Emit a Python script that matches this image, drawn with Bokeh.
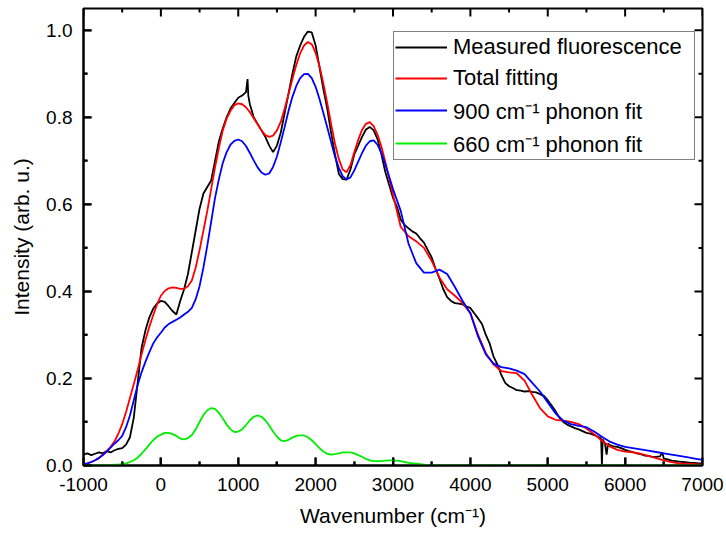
from bokeh.plotting import figure
from bokeh.models import Range1d, FixedTicker, NumeralTickFormatter, Legend, LegendItem, ColumnDataSource
from bokeh.embed import file_html
from bokeh.resources import INLINE

# ---------------- data ----------------
fit_x = list(range(-1000, 3001, 50)) + list(range(3100, 7001, 100))

total_fit = [0.003, 0.005, 0.008, 0.012, 0.018, 0.025, 0.033, 0.043, 0.055, 0.073,
             0.095, 0.123, 0.155, 0.187, 0.22, 0.255, 0.288, 0.318, 0.345, 0.37,
             0.39, 0.401, 0.407, 0.409, 0.408, 0.406, 0.406, 0.412, 0.425, 0.455,
             0.495, 0.54, 0.585, 0.635, 0.685, 0.73, 0.77, 0.797, 0.815, 0.828,
             0.832, 0.83, 0.823, 0.812, 0.798, 0.784, 0.77, 0.759, 0.755, 0.758,
             0.77, 0.79, 0.82, 0.853, 0.888, 0.92, 0.947, 0.965, 0.973, 0.968,
             0.948, 0.918, 0.878, 0.833, 0.785, 0.74, 0.704, 0.68, 0.674, 0.69,
             0.72, 0.748, 0.771, 0.785, 0.789, 0.78, 0.76, 0.733, 0.698, 0.66,
             0.622,
             0.548, 0.527, 0.515, 0.5, 0.47, 0.432, 0.405, 0.39, 0.373, 0.35,
             0.3, 0.258, 0.232, 0.217, 0.214, 0.212, 0.195, 0.162, 0.132, 0.113,
             0.105, 0.103, 0.1, 0.095, 0.085, 0.072, 0.057, 0.044, 0.036, 0.032,
             0.03, 0.027, 0.022, 0.017, 0.012, 0.008, 0.005, 0.004, 0.003, 0.002]

fit_900 = [0.003, 0.005, 0.008, 0.012, 0.017, 0.024, 0.032, 0.041, 0.05, 0.058,
           0.068, 0.088, 0.115, 0.15, 0.185, 0.214, 0.238, 0.26, 0.28, 0.294,
           0.305, 0.317, 0.325, 0.33, 0.335, 0.34, 0.347, 0.353, 0.362, 0.382,
           0.412, 0.455, 0.505, 0.56, 0.615, 0.658, 0.695, 0.72, 0.737, 0.746,
           0.749, 0.745, 0.734, 0.718, 0.701, 0.685, 0.673, 0.668, 0.671, 0.686,
           0.71, 0.743, 0.778, 0.815, 0.847, 0.872, 0.89, 0.899, 0.9, 0.89,
           0.87, 0.842, 0.81, 0.777, 0.743, 0.71, 0.684, 0.665, 0.657, 0.662,
           0.678, 0.698, 0.718, 0.735, 0.745, 0.747, 0.737, 0.718, 0.692, 0.664,
           0.635,
           0.585, 0.51, 0.465, 0.443, 0.443, 0.45, 0.44, 0.41, 0.378, 0.35,
           0.296, 0.255, 0.234, 0.226, 0.223, 0.218, 0.21, 0.19, 0.17, 0.145,
           0.12, 0.103, 0.095, 0.091, 0.088, 0.078, 0.066, 0.055, 0.048, 0.043,
           0.04, 0.037, 0.034, 0.031, 0.028, 0.025, 0.022, 0.019, 0.016, 0.013]

fit_660 = [0.0, 0.0, 0.0, 0.0, 0.0, 0.001, 0.001, 0.001, 0.002, 0.002,
           0.003, 0.005, 0.008, 0.012, 0.018, 0.027, 0.037, 0.048, 0.058, 0.066,
           0.071, 0.075, 0.075, 0.072, 0.068, 0.062, 0.06, 0.063, 0.07, 0.083,
           0.1, 0.116, 0.127, 0.132, 0.13, 0.121, 0.108, 0.094, 0.083, 0.077,
           0.078, 0.083, 0.093, 0.104, 0.112, 0.115, 0.112, 0.104, 0.092, 0.078,
           0.066, 0.058, 0.056, 0.059, 0.064, 0.068, 0.069, 0.069, 0.065, 0.058,
           0.049, 0.04, 0.032, 0.027, 0.025, 0.026, 0.028, 0.03, 0.03, 0.03,
           0.028, 0.024, 0.02, 0.015, 0.012, 0.01, 0.01, 0.01, 0.011, 0.012,
           0.012,
           0.01, 0.006, 0.004, 0.002, 0.001, 0.0, 0.0, 0.0, 0.0, 0.0,
           0.0, 0.0, 0.0, 0.0, 0.0, 0.0, 0.0, 0.0, 0.0, 0.0,
           0.0, 0.0, 0.0, 0.0, 0.0, 0.0, 0.0, 0.0, 0.0, 0.0,
           0.0, 0.0, 0.0, 0.0, 0.0, 0.0, 0.0, 0.0, 0.0, 0.0]

meas_x = [-1000, -950, -900, -850, -800, -750, -700, -650, -600, -550,
          -500, -450, -400, -350, -300, -250, -200, -150, -100, -50,
          0, 50, 100, 150, 200, 250, 300, 350, 400, 450,
          500, 550, 600, 650, 700, 750, 800, 850, 900, 950,
          1000, 1050, 1100, 1120, 1130, 1150, 1200, 1250, 1300, 1350,
          1400, 1450, 1500, 1550, 1600, 1650, 1700, 1750, 1800, 1850,
          1900, 1950, 2000, 2050, 2100, 2150, 2200, 2250, 2300, 2350,
          2400, 2450, 2500, 2550, 2600, 2650, 2700, 2750, 2800, 2850,
          2900, 2950, 3000, 3050, 3100, 3150, 3200, 3250, 3300, 3350,
          3400, 3450, 3500, 3550, 3600, 3650, 3700, 3750, 3800, 3850,
          3900, 3950, 4000, 4050, 4100, 4150, 4200, 4250, 4300, 4350,
          4400, 4450, 4500, 4550, 4600, 4650, 4700, 4750, 4800, 4850,
          4900, 4950, 5000, 5050, 5100, 5150, 5200, 5250, 5300, 5350,
          5400, 5450, 5500, 5550, 5600, 5650, 5690, 5700, 5710, 5740,
          5760, 5780, 5800, 5850, 5900, 5950, 6000, 6050, 6100, 6150,
          6200, 6250, 6300, 6350, 6400, 6450, 6480, 6500, 6550, 6600,
          6650, 6700, 6750, 6800, 6850, 6900, 6950, 7000]

meas_y = [0.025, 0.028, 0.024, 0.027, 0.03, 0.028, 0.033, 0.03, 0.035, 0.038,
          0.04, 0.048, 0.065, 0.11, 0.19, 0.27, 0.31, 0.34, 0.36, 0.372,
          0.378, 0.376, 0.366, 0.355, 0.347, 0.378, 0.405, 0.44, 0.49, 0.54,
          0.59, 0.625, 0.64, 0.655, 0.70, 0.745, 0.775, 0.80, 0.82, 0.833,
          0.845, 0.85, 0.858, 0.888, 0.85, 0.83, 0.80, 0.785, 0.77, 0.755,
          0.735, 0.72, 0.735, 0.765, 0.81, 0.855, 0.90, 0.94, 0.965, 0.985,
          0.997, 0.995, 0.965, 0.915, 0.865, 0.82, 0.765, 0.715, 0.67, 0.658,
          0.657, 0.68, 0.715, 0.735, 0.755, 0.772, 0.778, 0.77, 0.75, 0.715,
          0.675, 0.645, 0.615, 0.595, 0.565, 0.553, 0.545, 0.538, 0.533, 0.522,
          0.512, 0.495, 0.478, 0.452, 0.43, 0.405, 0.387, 0.378, 0.373, 0.372,
          0.37, 0.365, 0.362, 0.35, 0.338, 0.325, 0.30, 0.28, 0.25, 0.232,
          0.208, 0.19, 0.182, 0.178, 0.173, 0.172, 0.17, 0.171, 0.169, 0.168,
          0.164, 0.16, 0.15, 0.138, 0.125, 0.11, 0.10, 0.094, 0.09, 0.086,
          0.083, 0.079, 0.075, 0.073, 0.07, 0.066, 0.062, 0.0, 0.06, 0.05,
          0.025, 0.05, 0.047, 0.044, 0.043, 0.04, 0.036, 0.033, 0.031, 0.028,
          0.026, 0.023, 0.022, 0.02, 0.02, 0.021, 0.03, 0.016, 0.014, 0.011,
          0.01, 0.009, 0.008, 0.007, 0.006, 0.006, 0.005, 0.005]

x_lo, x_hi = -1000, 7000
y_lo, y_hi = 0.0, 1.05
x_major = [-1000, 0, 1000, 2000, 3000, 4000, 5000, 6000, 7000]
x_minor = [-500, 500, 1500, 2500, 3500, 4500, 5500, 6500]
y_major = [0.0, 0.2, 0.4, 0.6, 0.8, 1.0]
y_minor = [0.1, 0.3, 0.5, 0.7, 0.9]

labels = ["Measured fluorescence", "Total fitting",
          "900 cm\u207b\u00b9 phonon fit", "660 cm\u207b\u00b9 phonon fit"]
colors = ["#000000", "#ff0000", "#0000ff", "#00ee00"]

FONT = "Liberation Sans"

W, H = 726, 539
BL, BR, BT, BB = 83, 24, 8, 74

# ---------------- figure ----------------
p = figure(width=W, height=H, output_backend="svg", toolbar_location=None,
           x_range=Range1d(x_lo, x_hi), y_range=Range1d(y_lo, y_hi),
           min_border_left=BL, min_border_right=BR, min_border_top=BT,
           min_border_bottom=BB,
           x_axis_label="Wavenumber (cm\u207b\u00b9)",
           y_axis_label="Intensity (arb. u.)")
p.xgrid.visible = False
p.ygrid.visible = False
p.outline_line_color = "black"
p.outline_line_width = 2
p.background_fill_color = "white"
p.border_fill_color = "white"

for ax in (p.xaxis[0], p.yaxis[0]):
    ax.axis_line_color = "black"
    ax.axis_line_width = 2
    ax.major_tick_line_color = "black"
    ax.minor_tick_line_color = "black"
    ax.major_tick_line_width = 2
    ax.minor_tick_line_width = 2
    ax.major_tick_in = 8
    ax.major_tick_out = 0
    ax.minor_tick_in = 4
    ax.minor_tick_out = 0
    ax.major_label_text_font = FONT
    ax.axis_label_text_font = FONT
    ax.axis_label_text_font_style = "normal"
    ax.axis_label_text_color = "black"
    ax.major_label_text_color = "black"
    ax.major_label_text_font_size = "19px"
    ax.axis_label_text_font_size = "21px"

xa = p.xaxis[0]
xa.ticker = FixedTicker(ticks=x_major, minor_ticks=x_minor)
xa.major_label_overrides = {x_major[0]: "-1000"}
xa.major_label_standoff = 12
xa.axis_label_standoff = 10

ya = p.yaxis[0]
ya.ticker = FixedTicker(ticks=y_major, minor_ticks=y_minor)
ya.formatter = NumeralTickFormatter(format="0.0")
ya.major_label_standoff = 11
ya.axis_label_standoff = 10

# inward ticks on all four sides, as short segments at the tick values
fw = W - BL - BR
fh = H - BT - BB
dx = (x_hi - x_lo) / fw   # data units per pixel
dy = (y_hi - y_lo) / fh
seg = dict(line_color="black", line_width=2)
for ticks, n in ((x_major, 8), (x_minor, 4)):
    p.segment(x0=ticks, y0=[y_lo] * len(ticks), x1=ticks, y1=[y_lo + n * dy] * len(ticks), **seg)
    p.segment(x0=ticks, y0=[y_hi] * len(ticks), x1=ticks, y1=[y_hi - n * dy] * len(ticks), **seg)
for ticks, n in ((y_major, 8), (y_minor, 4)):
    p.segment(x0=[x_lo] * len(ticks), y0=ticks, x1=[x_lo + n * dx] * len(ticks), y1=ticks, **seg)
    p.segment(x0=[x_hi] * len(ticks), y0=ticks, x1=[x_hi - n * dx] * len(ticks), y1=ticks, **seg)

# ---------------- lines ----------------
src_fit = ColumnDataSource(dict(x=fit_x, total=total_fit, f900=fit_900, f660=fit_660))
src_meas = ColumnDataSource(dict(x=meas_x, y=meas_y))

r_meas = p.line("x", "y", source=src_meas, line_color=colors[0], line_width=1.8)
r_tot = p.line("x", "total", source=src_fit, line_color=colors[1], line_width=1.8)
r_900 = p.line("x", "f900", source=src_fit, line_color=colors[2], line_width=1.8)
r_660 = p.line("x", "f660", source=src_fit, line_color=colors[3], line_width=1.8)

legend = Legend(items=[LegendItem(label=labels[0], renderers=[r_meas]),
                       LegendItem(label=labels[1], renderers=[r_tot]),
                       LegendItem(label=labels[2], renderers=[r_900]),
                       LegendItem(label=labels[3], renderers=[r_660])],
                location=(310, 305))
legend.border_line_color = "black"
legend.border_line_width = 1
legend.background_fill_color = "white"
legend.background_fill_alpha = 1.0
legend.padding = 1
legend.spacing = 3
legend.margin = 0
legend.label_text_font = FONT
legend.label_text_font_size = "22px"
legend.label_text_color = "black"
legend.glyph_width = 52
legend.glyph_height = 28
legend.label_height = 28
legend.label_width = 240
legend.label_standoff = 6
p.add_layout(legend)

open("out.html", "w").write(file_html(p, INLINE))
